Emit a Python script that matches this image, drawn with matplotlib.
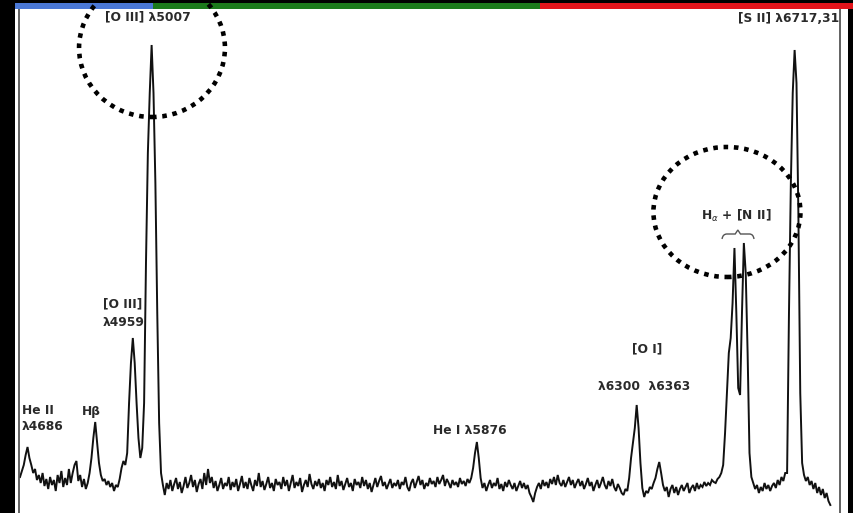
import matplotlib
matplotlib.use("Agg")
import matplotlib.pyplot as plt
from matplotlib.patches import Rectangle, Ellipse, PathPatch
from matplotlib.path import Path

# ---------------- data ----------------
# relative flux (arbitrary units), one sample every 5 Angstrom from 4660 A
flux = [
    36, 42, 48, 58, 66, 55, 48, 40, 44, 33,
    38, 30, 40, 27, 34, 24, 36, 28, 33, 22,
    38, 30, 42, 26, 35, 28, 44, 30, 40, 48,
    52, 32, 38, 26, 34, 24, 30, 40, 55, 75,
    91, 70, 50, 38, 32, 34, 28, 32, 26, 30,
    22, 28, 26, 34, 45, 52, 48, 60, 110, 150,
    175, 150, 110, 75, 55, 65, 110, 250, 360, 420,
    468, 420, 330, 200, 90, 40, 28, 18, 30, 24,
    33, 22, 29, 35, 24, 31, 20, 27, 36, 25, 30, 38, 26, 33, 21, 29, 34, 24, 40, 28,
    44, 30, 36, 25, 32, 22, 28, 35, 24, 30, 27, 36, 23, 31, 26, 34, 22, 29, 37, 25,
    31, 24, 35, 28, 22, 33, 27, 40, 26, 32, 23, 29, 36, 25, 30, 22, 34, 28, 31, 24,
    36, 27, 33, 22, 30, 38, 25, 31, 27, 35, 21, 28, 33, 26, 39, 29, 24, 32, 27, 34,
    25, 30, 22, 33, 28, 36, 26, 31, 24, 38, 27, 32, 23, 29, 35, 26, 30, 22, 34, 28,
    31, 25, 36, 27, 33, 24, 30, 21, 28, 35, 26, 32, 37, 27, 31, 24, 29, 34, 25, 30,
    27, 33, 24, 31, 28, 36, 26, 22, 30, 34, 25, 31, 37, 28, 33, 24, 30, 27, 35, 29,
    32, 26, 36, 29, 33, 38, 27, 34, 30, 25, 33, 28, 31, 26, 35, 29, 32, 27, 34, 30,
    35, 45, 60, 71, 55, 35, 25, 30, 22, 28,
    33, 25, 30, 27, 35, 24, 29, 22, 31, 26, 33, 28, 24, 30, 22, 27, 32, 25, 30, 24,
    28, 20, 16, 11, 20, 26, 30, 24, 33, 27, 31, 25, 34, 29, 36, 28, 38, 30, 27, 33,
    26, 31, 36, 28, 33, 25, 30, 34, 27, 32, 24, 29, 35, 27, 31, 22, 28, 33, 25, 30,
    36, 28, 24, 32, 27, 34, 26, 22, 29, 25,
    20, 18, 24, 22, 35, 55, 70, 85, 108, 85,
    50, 25, 16, 22, 20, 26, 24, 30, 35, 44,
    51, 40, 28, 22, 26, 16, 24, 28, 20, 26,
    18, 24, 28, 22, 26, 30, 20, 25, 28, 22, 30, 24, 28, 26, 31, 27, 30, 28, 33, 31,
    30, 34, 36, 40, 48, 80, 120, 160, 175, 210,
    265, 200, 125, 118, 200, 270, 240, 160, 60, 36,
    30, 24, 28, 20, 26, 22, 30, 24, 28, 22,
    27, 30, 25, 33, 28, 36, 32, 40, 40, 200,
    330, 420, 463, 430, 300, 120, 50, 38, 32, 36,
    28, 32, 24, 30, 20, 26, 18, 24, 15, 20, 12, 8,
]
# sampling grid of the scan (Angstrom)
wavelength = list(range(4660, 4660 + 5 * len(flux), 5))

# line labels: (text, wavelength, flux, horizontal alignment, line spacing)
labels = [
    ("[O III] λ5007", 4885, 496, "left", 1.2),
    ("[O III]\nλ4959", 4880, 200, "left", 1.5),
    ("He II\nλ4686", 4665, 95, "left", 1.3),
    ("Hβ", 4825, 102, "left", 1.2),
    ("He I λ5876", 5758, 83, "left", 1.2),
    ("[O I]", 6327, 164, "center", 1.2),
    ("λ6300  λ6363", 6197, 127, "left", 1.2),
    ("[S II] λ6717,31", 6838, 495, "right", 1.2),
    ("H$_\\alpha$ + [N II]", 6564, 297, "center", 1.2),
]

# highlighted regions: (centre wavelength, centre flux, width in Angstrom, height in flux)
highlights = [
    (5011, 465, 388, 138),
    (6540, 301, 391, 130),
]

W, H = 854, 513
fig = plt.figure(figsize=(W / 100, H / 100), dpi=100, facecolor="black")

# white paper area of the scan
fig.patches.append(Rectangle((15 / W, 0), (848 - 15) / W, 504 / H,
                             transform=fig.transFigure, facecolor="white",
                             edgecolor="none", zorder=-2))
# coloured band on top
for x0, x1, c in [(15, 153, "#4a78d6"), (153, 540, "#1b7a1b"), (540, 854, "#e3141b")]:
    fig.patches.append(Rectangle((x0 / W, (H - 9) / H), (x1 - x0) / W, 6 / H,
                                 transform=fig.transFigure, facecolor=c,
                                 edgecolor="none", zorder=1))

ax = fig.add_axes([19 / W, 0, 821 / W, 504 / H])
ax.set_facecolor("none")
ax.plot(wavelength, flux, color="#111111", lw=1.4, solid_joinstyle="miter")
ax.set_xlim(4657.3, 6840.7)
ax.set_ylim(0, 504)
ax.set_xticks([])
ax.set_yticks([])
for s in ("top", "bottom"):
    ax.spines[s].set_visible(False)
for s in ("left", "right"):
    ax.spines[s].set_color("#555555")
    ax.spines[s].set_linewidth(1.3)

for txt, lx, ly, ha, ls in labels:
    ax.text(lx, ly, txt, ha=ha, va="center", fontsize=8.8, fontweight="bold",
            color="#2a2a2a", family="DejaVu Sans", linespacing=ls, clip_on=False)

# curly brace under H-alpha + [N II]
verts = [(6527, 274), (6529, 279), (6540, 279), (6562, 279),
         (6569, 283), (6576, 279), (6600, 279), (6610, 279), (6612, 274)]
codes = [Path.MOVETO, Path.CURVE3, Path.CURVE3, Path.LINETO,
         Path.LINETO, Path.LINETO, Path.LINETO, Path.CURVE3, Path.CURVE3]
ax.add_patch(PathPatch(Path(verts, codes), facecolor="none", edgecolor="#555555",
                       lw=1.0, clip_on=False))

for cx, cy, w, h in highlights:
    e = Ellipse((cx, cy), w, h, transform=ax.transData, facecolor="none",
                edgecolor="black", lw=3.3, linestyle=(0, (1, 1.25)), zorder=5,
                clip_on=False)
    fig.add_artist(e)

fig.savefig("out.png", dpi=100, facecolor=fig.get_facecolor())
